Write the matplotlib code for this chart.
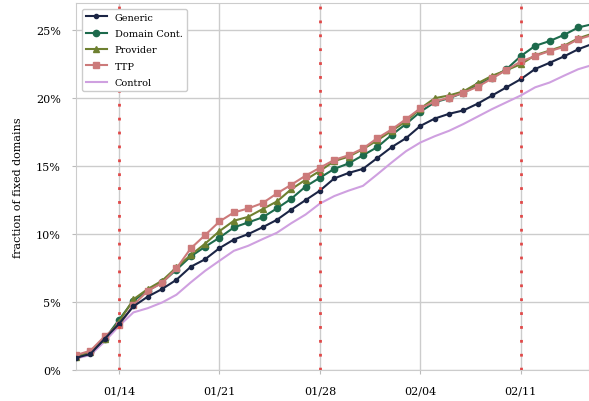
import matplotlib
matplotlib.use("Agg")
import matplotlib.pyplot as plt
import matplotlib.dates as mdates
from matplotlib.ticker import FuncFormatter
import numpy as np
import pandas as pd

plt.rcParams['font.family'] = ['DejaVu Serif']
plt.rcParams['font.size'] = 8

# daily values, 01/11 .. 02/16 (percent)
days = pd.date_range("2021-01-11", "2021-02-16", freq="D")

generic = [0.9, 1.18, 2.3, 3.4, 4.68, 5.4, 5.96, 6.64, 7.6, 8.15,
           8.97, 9.6, 10.0, 10.5, 11.05, 11.8, 12.5, 13.2, 14.1, 14.5,
           14.8, 15.6, 16.4, 17.06, 17.96, 18.5, 18.85, 19.1, 19.6, 20.2,
           20.8, 21.4, 22.15, 22.6, 23.07, 23.6, 24.0]
domain = [1.0, 1.3, 2.28, 3.7, 5.1, 5.83, 6.45, 7.38, 8.36, 9.07,
          9.74, 10.49, 10.86, 11.23, 11.89, 12.6, 13.5, 14.15, 14.8, 15.2,
          15.8, 16.4, 17.3, 18.1, 19.0, 19.7, 20.0, 20.4, 20.96, 21.5,
          22.13, 23.1, 23.85, 24.2, 24.65, 25.2, 25.45]
provider = [0.95, 1.3, 2.28, 3.55, 5.2, 5.96, 6.57, 7.55, 8.46, 9.3,
            10.22, 10.98, 11.27, 11.84, 12.4, 13.3, 14.0, 14.65, 15.37, 15.7,
            16.25, 16.9, 17.6, 18.3, 19.24, 20.0, 20.2, 20.5, 21.1, 21.65,
            22.06, 22.5, 23.16, 23.5, 23.85, 24.4, 24.75]
ttp = [1.1, 1.42, 2.48, 3.3, 4.78, 5.83, 6.4, 7.48, 8.95, 9.93,
       10.93, 11.59, 11.89, 12.28, 12.99, 13.63, 14.3, 14.88, 15.46, 15.8,
       16.3, 17.06, 17.7, 18.46, 19.26, 19.75, 20.04, 20.4, 20.85, 21.45,
       22.08, 22.7, 23.1, 23.46, 23.77, 24.34, 24.65]
control = [0.86, 1.1, 2.1, 3.24, 4.24, 4.55, 4.97, 5.54, 6.45, 7.3,
           8.04, 8.77, 9.14, 9.63, 10.1, 10.8, 11.44, 12.25, 12.8, 13.2,
           13.55, 14.4, 15.27, 16.1, 16.74, 17.2, 17.6, 18.1, 18.65, 19.2,
           19.7, 20.2, 20.8, 21.15, 21.65, 22.13, 22.45]

events = pd.to_datetime(["2021-01-14", "2021-01-28", "2021-02-11"])
ticks = pd.to_datetime(["2021-01-14", "2021-01-21", "2021-01-28", "2021-02-04", "2021-02-11"])

fig = plt.figure(figsize=(5.89, 4.02), dpi=100)
ax = fig.add_axes([0.129, 0.077, 0.871, 0.913])

ax.plot(days, np.array(generic) / 100, color="#1b2545", marker="o", markersize=3,
        linewidth=1.5, label="Generic", zorder=4)
ax.plot(days, np.array(domain) / 100, color="#1d6a4c", marker="o", markersize=4.5,
        linewidth=1.5, label="Domain Cont.", zorder=3)
ax.plot(days, np.array(provider) / 100, color="#6e8030", marker="^", markersize=4,
        linewidth=1.5, label="Provider", zorder=3)
ax.plot(days, np.array(ttp) / 100, color="#cc7a7a", marker="s", markersize=5,
        linewidth=1.5, label="TTP", zorder=3)
ax.plot(days, np.array(control) / 100, color="#cfa0e0", linewidth=1.5,
        label="Control", zorder=2)

for d in events:
    ax.axvline(d, color="#e04848", linestyle=(0, (1, 4)), linewidth=2, zorder=5)

ax.set_xlim(pd.Timestamp("2021-01-11"), pd.Timestamp("2021-02-15 18:00"))
ax.set_ylim(0, 0.27)
ax.set_xticks(ticks)
ax.xaxis.set_major_formatter(mdates.DateFormatter("%m/%d"))
ax.set_yticks(np.arange(0, 0.26, 0.05))
ax.yaxis.set_major_formatter(FuncFormatter(lambda v, p: f"{v*100:.0f}%"))
ax.set_ylabel("fraction of fixed domains", labelpad=9)

ax.grid(True, color="#cccccc", linewidth=1)
ax.set_axisbelow(True)
for s in ax.spines.values():
    s.set_color("#cccccc")
ax.tick_params(color="#bbbbbb", length=3, pad=8)

ax.legend(loc="upper left", fontsize=7, framealpha=1, edgecolor="#cccccc",
          handlelength=2.2, borderaxespad=0.6, labelspacing=0.75)

plt.savefig("out.png", dpi=100)
